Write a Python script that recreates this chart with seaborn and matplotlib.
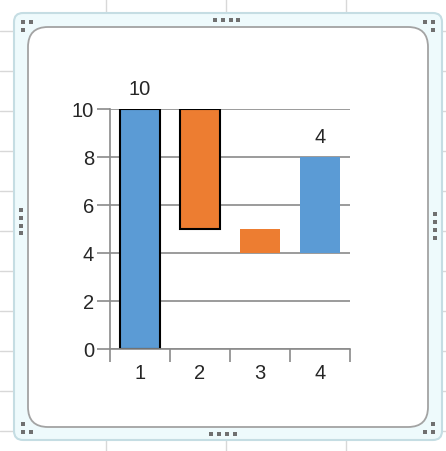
import matplotlib
matplotlib.use("Agg")
import matplotlib.pyplot as plt
import seaborn as sns
from matplotlib.patches import FancyBboxPatch, Rectangle

# data
categories = ["1", "2", "3", "4"]
bases = [0, 5, 4, 4]
heights = [10, 5, 1, 4]
bar_colors = ["#5B9BD5", "#ED7D31", "#ED7D31", "#5B9BD5"]
edge_colors = ["black", "black", "none", "none"]
bar_labels = ["10", "", "", "4"]
y_ticks = [0, 2, 4, 6, 8, 10]

sns.set_theme(style="white")
plt.rcParams["font.family"] = ["Liberation Sans", "DejaVu Sans"]

W, H = 446, 452
fig = plt.figure(figsize=(W / 100, H / 100), dpi=100)
fig.patch.set_facecolor("white")

# spreadsheet + chart frame background (pixel coords)
bg = fig.add_axes([0, 0, 1, 1], zorder=0)
bg.set_xlim(0, W)
bg.set_ylim(H, 0)
bg.axis("off")
for yy in range(32, H, 40):
    bg.axhline(yy, color="#d8d8d8", lw=1, zorder=0)
for xx in [106, 226, 346]:
    bg.axvline(xx, color="#d8d8d8", lw=1, zorder=0)
bg.add_patch(FancyBboxPatch((14, 14), 428, 427, boxstyle="round,pad=0,rounding_size=9",
                            facecolor="#eefafc", edgecolor="#c5dde3", lw=1.5, zorder=2))
bg.add_patch(FancyBboxPatch((28, 28), 400, 400, boxstyle="round,pad=0,rounding_size=20",
                            facecolor="white", edgecolor="#a3a3a3", lw=1.3, zorder=3))
dots = [(23, 23), (31, 23), (23, 31), (425, 23), (433, 23), (433, 31),
        (23, 425), (23, 433), (31, 433), (433, 425), (425, 433), (433, 433),
        (215, 21), (223, 21), (231, 21), (238, 21),
        (211, 435), (219, 435), (227, 435), (235, 435),
        (21, 211), (21, 219), (21, 227), (21, 234),
        (435, 215), (435, 223), (435, 231), (435, 239)]
for dx, dy in dots:
    bg.add_patch(Rectangle((dx - 2, dy - 2), 4, 4, color="#707070", lw=0, zorder=4))

# chart
ax = fig.add_axes([110 / W, 1 - 350 / H, 240 / W, 240 / H], zorder=1)
ax.patch.set_alpha(0)
sns.barplot(x=categories, y=heights, bottom=bases, width=0.667, errorbar=None,
            color=bar_colors[0], ax=ax)
for patch, fc, ec in zip(ax.patches, bar_colors, edge_colors):
    patch.set_facecolor(fc)
    patch.set_edgecolor(ec)
    patch.set_linewidth(1.5 if ec != "none" else 0)

for i, lab in enumerate(bar_labels):
    if lab:
        ax.annotate(lab, (i, bases[i] + heights[i]), xytext=(0, 8), textcoords="offset points",
                    ha="center", va="bottom", fontsize=14.5, color="#262626")

ax.set_xlim(-0.5, 3.5)
ax.set_ylim(0, 10)
ax.set_yticks(y_ticks)
ax.set_xticks(range(len(categories)))
ax.set_xticklabels(categories)
ax.set_xticks([i - 0.5 for i in range(len(categories) + 1)], minor=True)
ax.tick_params(axis="x", which="major", bottom=True, length=0, pad=10, labelsize=14.5,
               labelcolor="#262626")
ax.tick_params(axis="x", which="minor", bottom=True, length=9, width=1.2, color="#8a8a8a",
               direction="out")
ax.tick_params(axis="y", which="major", left=True, length=9.5, width=1.2, color="#8a8a8a",
               direction="out", pad=2, labelsize=14.5, labelcolor="#262626")
ax.yaxis.grid(True, color="#8a8a8a", lw=1.2)
ax.xaxis.grid(False)
ax.set_axisbelow(True)
for side in ["top", "right"]:
    ax.spines[side].set_visible(False)
for side in ["left", "bottom"]:
    ax.spines[side].set_color("#8a8a8a")
    ax.spines[side].set_linewidth(1.2)
ax.set_xlabel("")
ax.set_ylabel("")

fig.savefig("out.png", dpi=100)
